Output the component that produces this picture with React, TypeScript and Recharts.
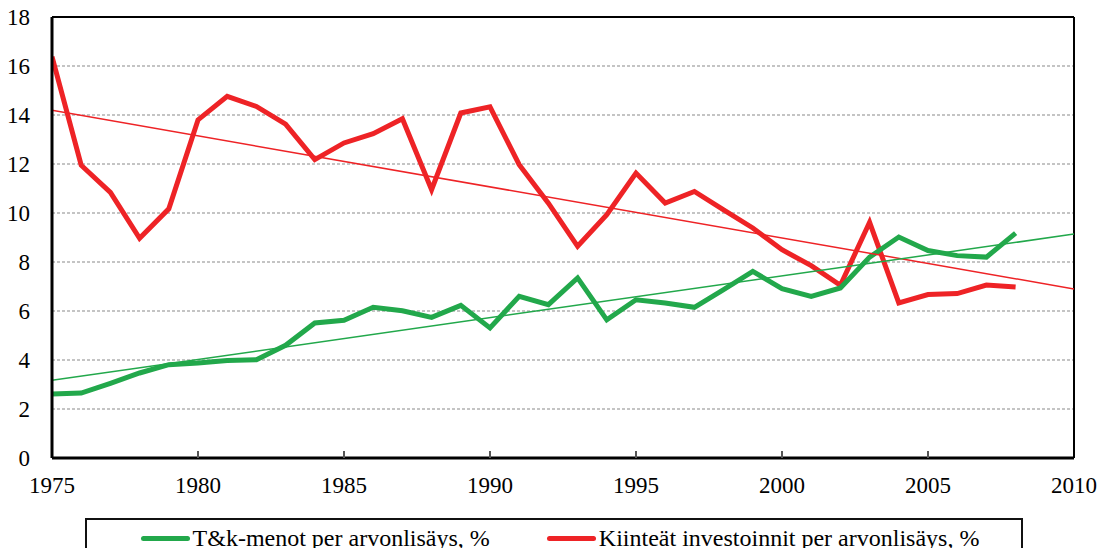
import React from "react";
import {
  LineChart,
  Line,
  XAxis,
  YAxis,
  CartesianGrid,
  ReferenceLine,
  Legend,
} from "recharts";

const years = [
  1975, 1976, 1977, 1978, 1979, 1980, 1981, 1982, 1983, 1984, 1985, 1986,
  1987, 1988, 1989, 1990, 1991, 1992, 1993, 1994, 1995, 1996, 1997, 1998,
  1999, 2000, 2001, 2002, 2003, 2004, 2005, 2006, 2007, 2008,
];

const rdShare = [
  2.61, 2.65, 3.05, 3.47, 3.81, 3.88, 3.98, 4.01, 4.6, 5.51, 5.62, 6.15, 6.01,
  5.74, 6.23, 5.31, 6.6, 6.26, 7.35, 5.64, 6.46, 6.33, 6.15, 6.87, 7.62, 6.91,
  6.6, 6.94, 8.2, 9.02, 8.47, 8.26, 8.2, 9.18,
];

const investShare = [
  16.38, 11.95, 10.84, 8.97, 10.17, 13.8, 14.76, 14.35, 13.63, 12.18, 12.86,
  13.24, 13.85, 10.95, 14.08, 14.33, 11.97, 10.4, 8.64, 9.93, 11.63, 10.41,
  10.88, 10.13, 9.39, 8.5, 7.85, 7.05, 9.62, 6.33, 6.67, 6.71, 7.06, 6.98,
];

const trendYears = [1975, 2010];
const rdTrendValues = [3.17, 9.14];
const investTrendValues = [14.19, 6.9];

const xTicks = [1975, 1980, 1985, 1990, 1995, 2000, 2005, 2010];
const yTicks = [0, 2, 4, 6, 8, 10, 12, 14, 16, 18];

const rdLabel = "T&k-menot per arvonlisäys, %";
const investLabel = "Kiinteät investoinnit per arvonlisäys, %";

const GREEN = "#22A84B";
const RED = "#EE2326";
const FONT = "Liberation Serif";

const data = years.map((year, i) => ({
  year,
  rd: rdShare[i],
  invest: investShare[i],
}));

const rdTrend = trendYears.map((year, i) => ({ year, v: rdTrendValues[i] }));
const investTrend = trendYears.map((year, i) => ({
  year,
  v: investTrendValues[i],
}));

const XTick = (props: any) => {
  const { x, y, payload } = props;
  const inner = payload.value !== 1975 && payload.value !== 2010;
  return (
    <g>
      {inner && (
        <line x1={x} x2={x} y1={y} y2={y - 7} stroke="#555" strokeWidth={2} />
      )}
      <text
        x={x}
        y={y + 35}
        textAnchor="middle"
        style={{ fontFamily: FONT, fontSize: 23 }}
        fill="#000"
      >
        {payload.value}
      </text>
    </g>
  );
};

const YTick = (props: any) => {
  const { x, y, payload } = props;
  return (
    <text
      x={x}
      y={y + 8}
      textAnchor="end"
      style={{ fontFamily: FONT, fontSize: 23 }}
      fill="#000"
    >
      {payload.value}
    </text>
  );
};

const LegendBox = () => (
  <div
    style={{
      boxSizing: "border-box",
      width: "100%",
      height: 44,
      border: "2px solid #111",
      display: "flex",
      alignItems: "center",
      justifyContent: "center",
      gap: 57,
      fontFamily: FONT,
      fontSize: 24,
      color: "#000",
      paddingLeft: 12,
      paddingBottom: 4,
    }}
  >
    {[
      { label: rdLabel, color: GREEN },
      { label: investLabel, color: RED },
    ].map((it) => (
      <div key={it.label} style={{ display: "flex", alignItems: "center" }}>
        <div
          style={{
            width: 49,
            height: 5,
            borderRadius: 3,
            background: it.color,
            marginRight: 3,
          }}
        />
        <span>{it.label}</span>
      </div>
    ))}
  </div>
);

export default function App() {
  return (
    <div style={{ width: 1105, height: 556, position: "relative", margin: -8 }}>
      <LineChart
        width={1105}
        height={556}
        data={data}
        margin={{ top: 17, right: 31, left: 0, bottom: 38 }}
      >
        <CartesianGrid
          vertical={false}
          stroke="#8a8a8a"
          strokeDasharray="3 2"
          strokeWidth={1.2}
        />
        <XAxis
          dataKey="year"
          type="number"
          domain={[1975, 2010]}
          ticks={xTicks}
          interval={0}
          height={60}
          tickSize={0}
          tickMargin={0}
          tickLine={false}
          tick={<XTick />}
          axisLine={{ stroke: "#000", strokeWidth: 3 }}
          allowDataOverflow
        />
        <YAxis
          type="number"
          domain={[0, 18]}
          ticks={yTicks}
          interval={0}
          width={52}
          tickSize={0}
          tickMargin={22}
          tickLine={false}
          axisLine={{ stroke: "#000", strokeWidth: 3 }}
          tick={<YTick />}
          allowDataOverflow
        />
        <ReferenceLine y={18} stroke="#000" strokeWidth={2} />
        <ReferenceLine x={2010} stroke="#000" strokeWidth={2} />
        <Line
          dataKey="invest"
          name={investLabel}
          stroke={RED}
          strokeWidth={5}
          dot={false}
          isAnimationActive={false}
          type="linear"
        />
        <Line
          dataKey="rd"
          name={rdLabel}
          stroke={GREEN}
          strokeWidth={5}
          dot={false}
          isAnimationActive={false}
          type="linear"
        />
        <Line
          data={investTrend}
          dataKey="v"
          stroke={RED}
          strokeWidth={1.5}
          dot={false}
          legendType="none"
          isAnimationActive={false}
          type="linear"
        />
        <Line
          data={rdTrend}
          dataKey="v"
          stroke={GREEN}
          strokeWidth={1.5}
          dot={false}
          legendType="none"
          isAnimationActive={false}
          type="linear"
        />
        <Legend
          layout="horizontal"
          verticalAlign="middle"
          align="center"
          content={() => <LegendBox />}
          wrapperStyle={{ left: 85, top: 518, width: 938, height: 44 }}
        />
      </LineChart>
    </div>
  );
}
